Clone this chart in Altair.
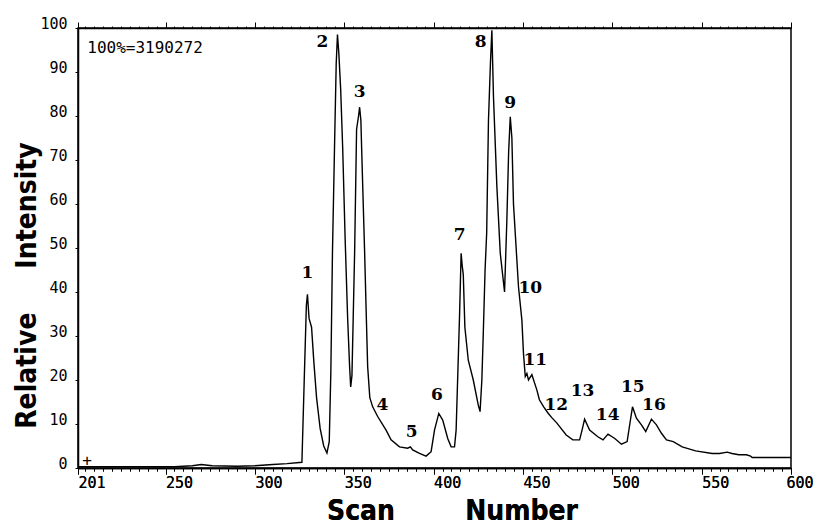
import altair as alt
import pandas as pd

# ---- trace (scan number vs relative intensity) ----
scan = [201, 230, 255, 265, 270, 276, 290, 300, 310, 318, 326.3, 327.6, 328.8, 329.4, 330.3,
        331.7, 333.0, 334.5, 336.5, 338.5, 340.3, 341.6, 342.5, 343.4, 344.6, 345.5, 346.2, 347.0,
        348.0, 349.1, 350.5, 351.9, 353.0, 353.6, 354.3, 355.0, 355.8, 356.9, 358.0, 358.6, 359.3,
        359.8, 361.4, 362.3, 363.1, 364.3, 365.9, 368.7, 373.4, 376.2, 380.9, 385.5, 387.0, 388.3,
        392.1, 395.8, 398.6, 400.5, 402.9, 405.1, 407.9, 409.8, 411.7, 412.6, 414.5, 415.4, 416.0,
        416.6, 417.5, 419.4, 422.2, 425.0, 426.0, 427.0, 427.8, 428.8, 429.7, 430.7, 431.8, 432.6,
        433.5, 435.4, 437.3, 439.7, 441.0, 442.0, 442.9, 443.8, 444.7, 447.5, 449.4, 450.3, 451.3,
        452.2, 453.1, 455.0, 457.8, 459.2, 461.6, 464.0, 466.0, 469.0, 474.2, 477.9, 481.7, 483.0,
        484.5, 487.3, 491.9, 494.8, 497.6, 501.4, 505.1, 508.3, 509.8, 511.3, 513.5, 516.3, 518.7,
        521.9, 524.7, 527.5, 530.3, 534.1, 539.1, 546.6, 555.9, 560.0, 564.3, 567.0, 570.8, 575.0,
        577.4, 578.3, 600]
intensity = [0.3, 0.3, 0.3, 0.5, 0.8, 0.5, 0.4, 0.5, 0.8, 1.0, 1.3, 20, 37, 39.5, 34,
             32, 24, 16, 9, 5, 3.4, 6, 22, 49, 74, 92, 98.5, 94,
             86, 73, 52, 34, 23, 18.4, 21, 34, 49, 77, 80, 82, 79,
             71.6, 49, 35, 23, 16, 13.9, 11.7, 8.6, 6.4, 4.8, 4.5, 4.8, 4.1,
             3.3, 2.7, 3.7, 8.6, 12.4, 10.9, 6.7, 4.8, 4.8, 8.6, 34.4, 48.8, 46,
             44, 32, 24.5, 20, 14.3, 12.8, 20, 30.6, 45, 53.4, 79, 92, 99.5,
             84.4, 64, 48.8, 40, 56.4, 72, 79.8, 75, 60, 41.2, 33.6, 26, 20.8,
             21.5, 20, 21.2, 17.7, 15.5, 13.9, 12.5, 11.5, 10.2, 7.5, 6.4, 6.4, 8.5,
             11.1, 8.6, 7.1, 6.4, 7.7, 6.7, 5.4, 6.0, 10, 13.9, 11.3, 9.8, 8.3,
             11.1, 9.8, 7.9, 6.4, 6.0, 4.8, 3.9, 3.3, 3.3, 3.6, 3.3, 3.0, 3.0,
             2.7, 2.4, 2.4]

# ---- peak labels ----
peak_ids = [str(i) for i in range(1, 17)]
peak_scan = [329.4, 337.8, 358.6, 371.4, 387.7, 401.8, 414.6, 426.4, 442.9, 454.1, 456.9,
             468.7, 483.3, 497.4, 511.5, 523.3]
peak_int = [44.3, 96.8, 85.5, 14.3, 8.2, 16.6, 53, 96.8, 83, 41, 24.5, 14.3, 17.5, 12, 18.4, 14.3]

# ---- annotations and axes ----
note_text = ["100%=3190272", "+"]
note_scan = [206.2, 203.4]
note_int = [95.5, 1.6]
x_labels = [201, 250, 300, 350, 400, 450, 500, 550, 600]
x_ticks = [201] + list(range(205, 601, 5))
y_ticks = list(range(0, 101, 10))

trace = pd.DataFrame({"scan": scan, "intensity": intensity})
peaks = pd.DataFrame({"scan": peak_scan, "intensity": peak_int, "label": peak_ids})
notes = pd.DataFrame({"scan": note_scan, "intensity": note_int, "label": note_text})

xscale = alt.Scale(domain=[201, 600], nice=False, zero=False)
yscale = alt.Scale(domain=[0, 100], nice=False, zero=False)
label_test = "indexof([" + ",".join(str(v) for v in x_labels) + "], datum.value) >= 0"
MONO = "DejaVu Sans Mono"
TITLE_FONT = "DejaVu Sans Condensed"
NB = "\u00a0"

bottom_axis = alt.Axis(
    orient="bottom", values=x_ticks, format="d",
    labelExpr=label_test + " ? datum.label : ''",
    labelAlign="left", labelBaseline="top", labelFlush=False, labelOverlap=False, labelBound=False,
    labelOffset={"condition": {"test": "datum.value == 600", "value": -5}, "value": 0},
    labelFont=MONO, labelFontSize=15, labelColor="black", labelPadding=1,
    tickSize={"condition": {"test": label_test, "value": 6}, "value": 3},
    tickColor="black", domainColor="black", domainWidth=1.5, grid=False,
    title="Scan" + NB * 8 + "Number", titleFont=TITLE_FONT, titleFontWeight="bold",
    titleFontSize=28, titleColor="black", titleX=374, titleY=51,
    titleAlign="center", titleBaseline="alphabetic",
)
top_axis = alt.Axis(
    orient="top", values=x_ticks, labels=False, title=None, grid=False,
    tickSize={"condition": {"test": label_test, "value": 6}, "value": 2},
    tickColor="black", domainColor="black", domainWidth=1.5,
)
left_axis = alt.Axis(
    orient="left", values=y_ticks, format="d",
    labelFont=MONO, labelFontSize=15, labelColor="black", labelBaseline="alphabetic",
    labelPadding=8, labelFlush=False, labelOverlap=False,
    tickSize=3, tickColor="black", domainColor="black", domainWidth=1.5, grid=False,
    title="Relative" + NB * 5 + "Intensity", titleFont=TITLE_FONT, titleFontWeight="bold",
    titleFontSize=28, titleColor="black", titleAngle=-90, titleX=-43, titleY=257,
    titleAlign="center", titleBaseline="alphabetic",
)

line = alt.Chart(trace).mark_line(color="black", strokeWidth=1.4, clip=True).encode(
    x=alt.X("scan:Q", scale=xscale, axis=bottom_axis),
    y=alt.Y("intensity:Q", scale=yscale, axis=left_axis),
)

labels = alt.Chart(peaks).mark_text(
    font="DejaVu Serif", fontWeight="bold", fontSize=17, color="black",
    align="center", baseline="middle",
).encode(
    x=alt.X("scan:Q", scale=xscale, axis=top_axis),
    y=alt.Y("intensity:Q", scale=yscale, axis=left_axis),
    text="label:N",
)

note = alt.Chart(notes).mark_text(
    font=MONO, fontSize=16, color="black", align="left", baseline="middle",
).encode(
    x=alt.X("scan:Q", scale=xscale, axis=bottom_axis),
    y=alt.Y("intensity:Q", scale=yscale, axis=left_axis),
    text="label:N",
)

chart = alt.layer(line, labels, note).properties(
    width=713, height=440,
    autosize=alt.AutoSizeParams(type="none"),
    padding={"left": 70, "top": 20, "right": 24, "bottom": 57},
    background="white",
).configure_view(stroke="black", strokeWidth=1.5)

chart.save("out.html", embed_options={"renderer": "svg", "actions": False})
